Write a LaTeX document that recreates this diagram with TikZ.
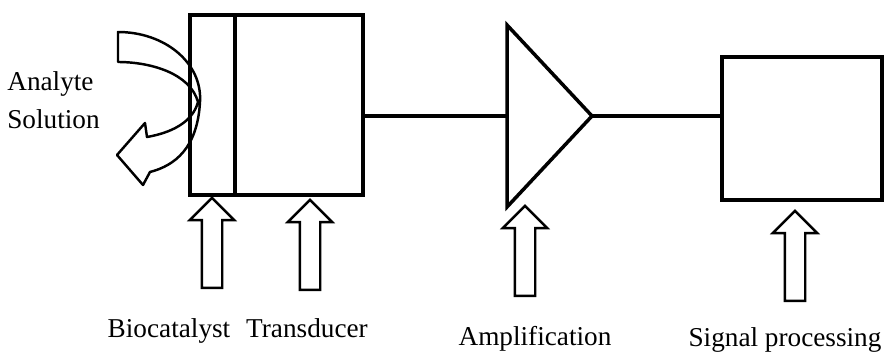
\documentclass[tikz,border=0pt]{standalone}
\usepackage{fontspec}
\setmainfont{Liberation Serif}
\usetikzlibrary{positioning,shapes.arrows}

\begin{document}
\begin{tikzpicture}[every node/.style={font=\fontsize{15.5}{21.5}\selectfont},
	blk/.style={draw, line width=2.3pt, outer sep=0pt, inner sep=0pt},
	hollow/.style={single arrow, draw, line width=1.4pt, rotate=90, inner xsep=0pt, inner ysep=0.18cm, single arrow head extend=0.24cm, minimum height=1.8cm},
	wire/.style={line width=2pt}]
	\useasboundingbox (0,0) rectangle (17.76,7.16);
	\node[blk, minimum width=0.9cm, minimum height=3.6cm, anchor=south west] (bio) at (3.8,3.26) {};
	\node[blk, minimum width=2.56cm, minimum height=3.6cm, right=0pt of bio] (trans) {};
	\coordinate (ampL) at (10.14,4.84);
	\coordinate (ampT) at (11.84,4.84);
	\draw[wire, line join=miter] (10.14,6.66) -- (ampT) -- (10.14,3.02) -- cycle;
	\node[blk, minimum width=3.2cm, minimum height=2.86cm] (proc) at (16.04,4.59) {};
	\draw[wire] (trans.east |- ampL) -- (ampL);
	\draw[wire] (ampT) -- (ampT -| proc.west);
	\draw[line width=1.4pt, line join=round] (2.36,6.52) .. controls (3.3,6.52) and (4.05,5.9) .. (4.0,5.12)
		.. controls (3.95,4.2) and (3.5,3.85) .. (3.0,3.72) -- (2.86,3.46) -- (2.34,4.06) -- (2.9,4.7) -- (2.94,4.42)
		.. controls (3.4,4.5) and (3.85,4.7) .. (3.96,5.12) .. controls (3.8,5.7) and (3.0,5.92) .. (2.36,5.92) -- cycle;
	\node[align=left, inner sep=0pt, anchor=north west] (analyte) at (0.14,5.73) {Analyte\\Solution};
	\node[hollow] (bioarr) at (4.24,2.2) {};
	\node[hollow] (transarr) at (6.2,2.16) {};
	\node[hollow] (amparr) at (10.5,2.04) {};
	\node[hollow] (procarr) at (15.9,1.94) {};
	\node[anchor=base] (biolab) at (3.38,0.42) {Biocatalyst};
	\node[anchor=base] (translab) at (6.14,0.42) {Transducer};
	\node[anchor=base] (amplab) at (10.7,0.26) {Amplification};
	\node[anchor=base] (proclab) at (15.7,0.24) {Signal processing};
\end{tikzpicture}
\end{document}
